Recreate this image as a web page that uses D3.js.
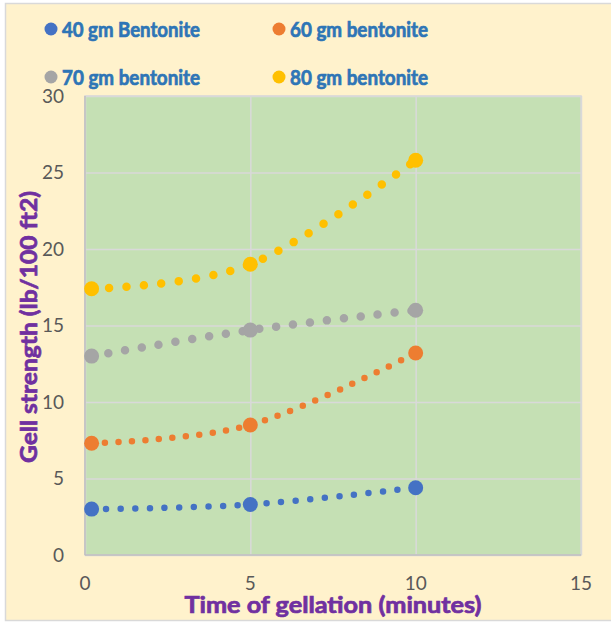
<!DOCTYPE html>
<html>
<head>
<meta charset="utf-8">
<script src="https://cdn.jsdelivr.net/npm/d3@7"></script>
<style>
  body { margin: 0; background: #fff; }
  text { font-family: Lato, "Open Sans", sans-serif; }
</style>
</head>
<body>
<div id="chart"></div>
<script>
var times = [0.2, 5, 10];
var bent40 = [3.0, 3.3, 4.4];
var bent60 = [7.3, 8.5, 13.2];
var bent70 = [13.0, 14.7, 16.0];
var bent80 = [17.4, 19.0, 25.8];
var seriesNames = ["40 gm Bentonite", "60 gm bentonite", "70 gm bentonite", "80 gm bentonite"];
var xTicks = [0, 5, 10, 15];
var yTicks = [0, 5, 10, 15, 20, 25, 30];

var width = 611, height = 624;
var margin = { top: 96, left: 85, right: 30, bottom: 69 };

var series = [
  { name: seriesNames[0], values: bent40, color: "#4472C4", lw: 6.5, gap: 14.6 },
  { name: seriesNames[1], values: bent60, color: "#ED7D31", lw: 6.5, gap: 13.5 },
  { name: seriesNames[2], values: bent70, color: "#A5A5A5", lw: 8.5, gap: 17 },
  { name: seriesNames[3], values: bent80, color: "#FFC000", lw: 8.5, gap: 17.5 }
];

var svg = d3.select("#chart").append("svg")
  .attr("width", width)
  .attr("height", height);

// chart background + border
svg.append("rect")
  .attr("x", 5.5).attr("y", 3.5)
  .attr("width", width).attr("height", 617)
  .attr("fill", "#FFF2CC")
  .attr("stroke", "#d9d9d9")
  .attr("stroke-width", 1.5);

var x = d3.scaleLinear().domain([0, 15]).range([margin.left, width - margin.right]);
var y = d3.scaleLinear().domain([0, 30]).range([height - margin.bottom, margin.top]);

// plot area
svg.append("rect")
  .attr("x", x(0)).attr("y", y(30))
  .attr("width", x(15) - x(0)).attr("height", y(0) - y(30))
  .attr("fill", "#C5E0B4")
  .attr("stroke", "#d6d6d6")
  .attr("stroke-width", 1.5);

// gridlines
svg.append("g")
  .attr("transform", "translate(0," + y(0) + ")")
  .call(d3.axisBottom(x).tickValues(xTicks).tickSize(-(y(0) - y(30))).tickFormat(""))
  .call(function(g) {
    g.select(".domain").remove();
    g.selectAll("line").attr("stroke", "#d9d9d9").attr("stroke-width", 1.5);
  });
svg.append("g")
  .attr("transform", "translate(" + x(0) + ",0)")
  .call(d3.axisLeft(y).tickValues(yTicks).tickSize(-(x(15) - x(0))).tickFormat(""))
  .call(function(g) {
    g.select(".domain").remove();
    g.selectAll("line").attr("stroke", "#d9d9d9").attr("stroke-width", 1.5);
  });

// axis lines left/bottom
svg.append("line")
  .attr("x1", x(0)).attr("x2", x(0)).attr("y1", y(0)).attr("y2", y(30))
  .attr("stroke", "#bfbfbf").attr("stroke-width", 1.5);
svg.append("line")
  .attr("x1", x(0)).attr("x2", x(15)).attr("y1", y(0)).attr("y2", y(0))
  .attr("stroke", "#bfbfbf").attr("stroke-width", 1.5);

// tick labels
svg.append("g")
  .selectAll("text")
  .data(yTicks)
  .enter().append("text")
  .attr("x", 64)
  .attr("y", function(d) { return y(d); })
  .attr("dy", "0.35em")
  .attr("text-anchor", "end")
  .attr("font-size", 19)
  .attr("fill", "#595959")
  .text(function(d) { return d; });

svg.append("g")
  .selectAll("text")
  .data(xTicks)
  .enter().append("text")
  .attr("x", function(d) { return x(d); })
  .attr("y", 590)
  .attr("text-anchor", "middle")
  .attr("font-size", 19)
  .attr("fill", "#595959")
  .text(function(d) { return d; });

// lines
var line = d3.line()
  .x(function(d, i) { return x(times[i]); })
  .y(function(d) { return y(d); })
  .curve(d3.curveCatmullRom.alpha(0));

series.forEach(function(s) {
  svg.append("path")
    .datum(s.values)
    .attr("d", line)
    .attr("fill", "none")
    .attr("stroke", s.color)
    .attr("stroke-width", s.lw)
    .attr("stroke-linecap", "round")
    .attr("stroke-dasharray", "0," + s.gap);

  svg.append("g")
    .selectAll("circle")
    .data(s.values)
    .enter().append("circle")
    .attr("cx", function(d, i) { return x(times[i]); })
    .attr("cy", function(d) { return y(d); })
    .attr("r", 7.5)
    .attr("fill", s.color);
});

// legend
var legendPos = [[51, 29], [279, 29], [51, 77], [279, 77]];
var legend = svg.append("g");
series.forEach(function(s, i) {
  var p = legendPos[i];
  legend.append("circle")
    .attr("cx", p[0]).attr("cy", p[1])
    .attr("r", 6.5)
    .attr("fill", s.color);
  legend.append("text")
    .attr("x", p[0] + 11)
    .attr("y", p[1] + 8)
    .attr("font-size", 21)
    .attr("font-weight", "bold")
    .attr("fill", "#2E75B6")
    .attr("stroke", "#2E75B6")
    .attr("stroke-width", 0.7)
    .attr("textLength", 138)
    .attr("lengthAdjust", "spacingAndGlyphs")
    .text(s.name);
});

// axis titles
svg.append("text")
  .attr("x", (x(0) + x(15)) / 2)
  .attr("y", 613)
  .attr("text-anchor", "middle")
  .attr("font-size", 22)
  .attr("font-weight", "bold")
  .attr("fill", "#7030A0")
  .attr("stroke", "#7030A0")
  .attr("stroke-width", 0.7)
  .attr("textLength", 297)
  .attr("lengthAdjust", "spacingAndGlyphs")
  .text("Time of gellation (minutes)");

svg.append("text")
  .attr("transform", "translate(37,327) rotate(-90)")
  .attr("text-anchor", "middle")
  .attr("font-size", 23)
  .attr("font-weight", "bold")
  .attr("fill", "#7030A0")
  .attr("stroke", "#7030A0")
  .attr("stroke-width", 0.7)
  .attr("textLength", 272)
  .attr("lengthAdjust", "spacingAndGlyphs")
  .text("Gell strength (lb/100 ft2)");
</script>
</body>
</html>
